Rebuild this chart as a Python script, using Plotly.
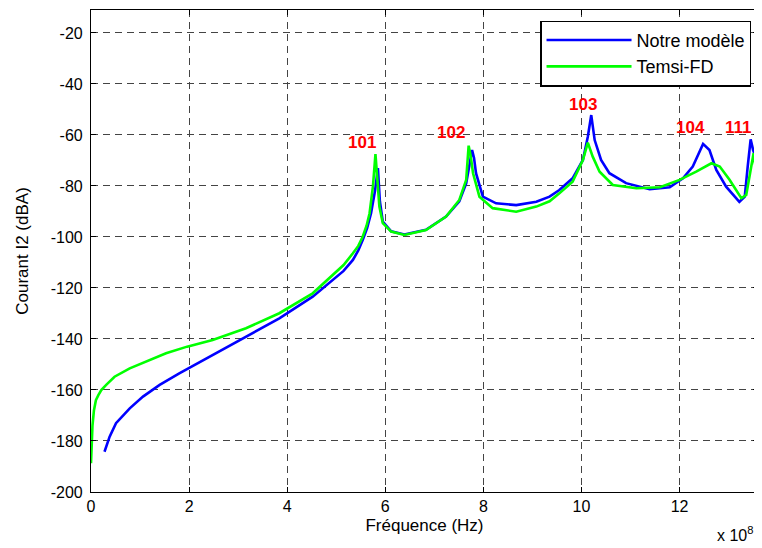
import plotly.graph_objects as go

# Frequency in units of 1e8 Hz
x_notre = [0.275, 0.38, 0.51, 0.79, 1.06, 1.40, 1.80, 2.21, 2.48, 3.16, 3.84, 4.52, 4.93, 5.15, 5.34,
           5.45, 5.54, 5.63, 5.71, 5.79, 5.85, 5.89, 5.95, 6.12, 6.39, 6.83, 7.24, 7.51, 7.65, 7.72,
           7.77, 7.81, 7.85, 7.99, 8.26, 8.67, 9.08, 9.35, 9.55, 9.82, 10.03, 10.13, 10.20, 10.27,
           10.40, 10.57, 10.91, 11.39, 11.80, 12.07, 12.27, 12.48, 12.61, 12.75, 12.95, 13.22, 13.33,
           13.39, 13.45, 13.50, 13.56, 13.63]
y_notre = [-184.2, -178.3, -173, -167.2, -162.6, -158, -153.5, -149.2, -146.2, -139.1, -131.9, -123.4,
           -116.9, -113.3, -109, -105.3, -101.2, -96.5, -90.7, -82, -73, -86, -94, -97.8, -99, -97.2,
           -92, -86, -79, -72, -65.9, -69, -75, -84.2, -86.8, -87.5, -86.2, -84.2, -81.6, -77, -69.8,
           -60.7, -52.2, -62, -69.8, -75, -78.9, -81.3, -80.5, -77, -72.4, -63.5, -65.9, -73.7, -80.3,
           -86.2, -84.2, -72.4, -61.7, -65.9, -69.1, -68.5]

x_temsi = [0.0, 0.01, 0.03, 0.06, 0.1, 0.15, 0.21, 0.31, 0.48, 0.79, 1.12, 1.53, 1.96, 2.48, 3.16,
           3.84, 4.52, 4.93, 5.15, 5.34, 5.45, 5.54, 5.62, 5.68, 5.75, 5.80, 5.84, 5.88, 5.95, 6.12,
           6.39, 6.83, 7.24, 7.51, 7.65, 7.70, 7.74, 7.79, 7.92, 8.19, 8.67, 9.08, 9.35, 9.55, 9.82,
           10.03, 10.13, 10.23, 10.37, 10.64, 11.12, 11.60, 12.0, 12.34, 12.65, 12.82, 13.02, 13.26,
           13.36, 13.46, 13.51, 13.56, 13.62]
y_temsi = [-188.7, -180, -174, -168, -164, -162, -160, -158, -154.8, -151.5, -148.9, -145.6, -143,
           -140.4, -135.8, -129.9, -122.1, -114.9, -111, -106.4, -103.5, -99.9, -95.5, -90.7, -80,
           -67.5, -80, -88.1, -94.6, -97.9, -99.2, -97.3, -92, -85.5, -77.6, -64.2, -68, -75, -84.2,
           -88.7, -90.1, -88.1, -86, -82.9, -78.3, -69.8, -63, -68.5, -74.4, -79.6, -80.9, -80.5,
           -77.6, -74.4, -71.1, -72.4, -77.6, -84.8, -83.5, -72.4, -67.2, -74, -91.4]

peak_labels = ["101", "102", "103", "104", "111"]
peak_x = [5.52, 7.35, 10.04, 12.22, 13.2]
peak_y = [-63.1, -59.2, -48.2, -56.9, -56.9]

x_ticks = [0, 2, 4, 6, 8, 10, 12]
y_ticks = [-200, -180, -160, -140, -120, -100, -80, -60, -40, -20]

FONT = "Liberation Sans, Arial, sans-serif"

fig = go.Figure()
fig.add_trace(go.Scatter(x=x_notre, y=y_notre, mode="lines", name="Notre modèle",
                         line=dict(color="#0000FF", width=2.6)))
fig.add_trace(go.Scatter(x=x_temsi, y=y_temsi, mode="lines", name="Temsi-FD",
                         line=dict(color="#00FF00", width=2.6)))

for t, xv, yv in zip(peak_labels, peak_x, peak_y):
    fig.add_annotation(x=xv, y=yv, text="<b>%s</b>" % t, showarrow=False,
                       font=dict(family=FONT, size=17, color="#FF0000"),
                       xanchor="center", yanchor="middle")

fig.add_annotation(xref="paper", yref="paper", x=0.995, y=-0.112, text="x 10<sup>8</sup>",
                   showarrow=False, xanchor="right", yanchor="bottom",
                   font=dict(family=FONT, size=16, color="black"))

axis_common = dict(showline=True, linecolor="black", linewidth=1.2, mirror="ticks",
                   ticks="inside", ticklen=5, tickcolor="black",
                   showgrid=True, gridcolor="#444444", griddash="7px,5px", gridwidth=1,
                   zeroline=False, tickfont=dict(family=FONT, size=16, color="black"))

fig.update_xaxes(range=[0, 13.6], tickvals=x_ticks, ticktext=[str(v) for v in x_ticks],
                 title=dict(text="Fréquence (Hz)", font=dict(family=FONT, size=17, color="black"),
                            standoff=4),
                 **axis_common)
fig.update_yaxes(range=[-200, -11], tickvals=y_ticks, ticktext=[str(v) for v in y_ticks],
                 title=dict(text="Courant I2 (dBA)", font=dict(family=FONT, size=17, color="black"),
                            standoff=17),
                 ticklabelstandoff=4,
                 **axis_common)

# page body has an 8px margin: figure is sized/offset to place the plot area like the reference
fig.update_layout(
    width=754, height=540,
    margin=dict(l=83, r=4, t=2, b=56),
    paper_bgcolor="white", plot_bgcolor="white",
    font=dict(family=FONT, size=16, color="black"),
    legend=dict(x=0.99, y=0.978, xanchor="right", yanchor="top",
                bgcolor="white", bordercolor="black", borderwidth=1.2,
                font=dict(family=FONT, size=18, color="black"),
                tracegroupgap=0, itemwidth=85),
    showlegend=True,
)

fig.write_html("out.html")
